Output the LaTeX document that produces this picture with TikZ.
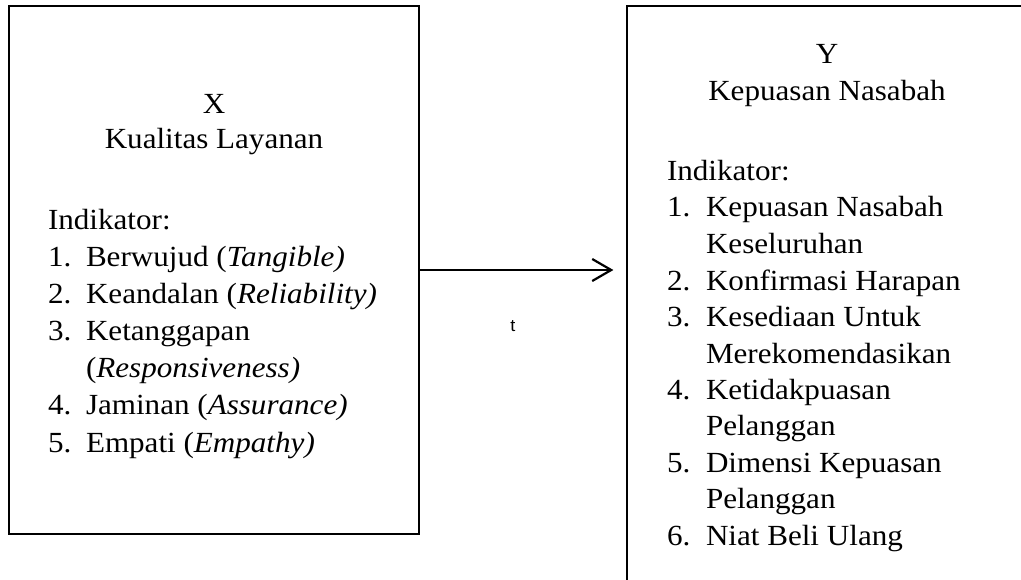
\documentclass[tikz,border=0pt]{standalone}
\usepackage{fontspec}
\setmainfont[FakeStretch=1.065]{Liberation Serif}
\newfontfamily\labelfont[FakeStretch=1.065]{Liberation Sans}
\usetikzlibrary{arrows.meta}
\begin{document}
\begin{tikzpicture}[x=1pt,y=-1pt,
  txt/.style={inner sep=0pt, outer sep=0pt, font=\fontsize{29.2}{34}\selectfont},
  ctr/.style={txt, anchor=base},
  lft/.style={txt, anchor=base west},
  boxline/.style={draw=black, line width=1.2pt, inner sep=0pt},
  conn/.style={line width=2.2pt, -{Straight Barb[length=19pt,width=22pt]}},
]
\useasboundingbox (0,0) rectangle (1021,579);
% boxes
\node[boxline, minimum width=410pt, minimum height=528pt] (boxX) at (214,270) {};
\node[boxline, minimum width=400pt, minimum height=600pt] (boxY) at (827,306) {};
% left box text
\node[ctr] (xv) at (214,113) {X};
\node[ctr] (xn) at (214,148) {Kualitas Layanan};
\node[lft] (xi) at (48,229) {Indikator:};
\node[lft] (xn1) at (48,266.2) {1.};
\node[lft] (xt1) at (86,266.2) {Berwujud (\textit{Tangible)}};
\node[lft] (xn2) at (48,303.3) {2.};
\node[lft] (xt2) at (86,303.3) {Keandalan (\textit{Reliability)}};
\node[lft] (xn3) at (48,340.5) {3.};
\node[lft] (xt3) at (86,340.5) {Ketanggapan};
\node[lft] (xt3b) at (86,377.7) {(\textit{Responsiveness)}};
\node[lft] (xn4) at (48,414.8) {4.};
\node[lft] (xt4) at (86,414.8) {Jaminan (\textit{Assurance)}};
\node[lft] (xn5) at (48,452) {5.};
\node[lft] (xt5) at (86,452) {Empati (\textit{Empathy)}};
% right box text
\node[ctr] (yv) at (827,63) {Y};
\node[ctr] (yn) at (827,100) {Kepuasan Nasabah};
\node[lft] (yi) at (667,180) {Indikator:};
\node[lft] (yn1) at (667,216.5) {1.};
\node[lft] (yt1) at (706,216.5) {Kepuasan Nasabah};
\node[lft] (yt1b) at (706,253) {Keseluruhan};
\node[lft] (yn2) at (667,290) {2.};
\node[lft] (yt2) at (706,290) {Konfirmasi Harapan};
\node[lft] (yn3) at (667,326.5) {3.};
\node[lft] (yt3) at (706,326.5) {Kesediaan Untuk};
\node[lft] (yt3b) at (706,363) {Merekomendasikan};
\node[lft] (yn4) at (667,399) {4.};
\node[lft] (yt4) at (706,399) {Ketidakpuasan};
\node[lft] (yt4b) at (706,435.5) {Pelanggan};
\node[lft] (yn5) at (667,472) {5.};
\node[lft] (yt5) at (706,472) {Dimensi Kepuasan};
\node[lft] (yt5b) at (706,508.5) {Pelanggan};
\node[lft] (yn6) at (667,545) {6.};
\node[lft] (yt6) at (706,545) {Niat Beli Ulang};
% connector
\draw[conn, shorten >=13pt] (boxX.east) -- (boxX.east -| boxY.west);
\node[inner sep=0pt, anchor=base, font=\labelfont\fontsize{17}{19}\selectfont] (tl) at (513,331) {t};
\end{tikzpicture}
\end{document}
